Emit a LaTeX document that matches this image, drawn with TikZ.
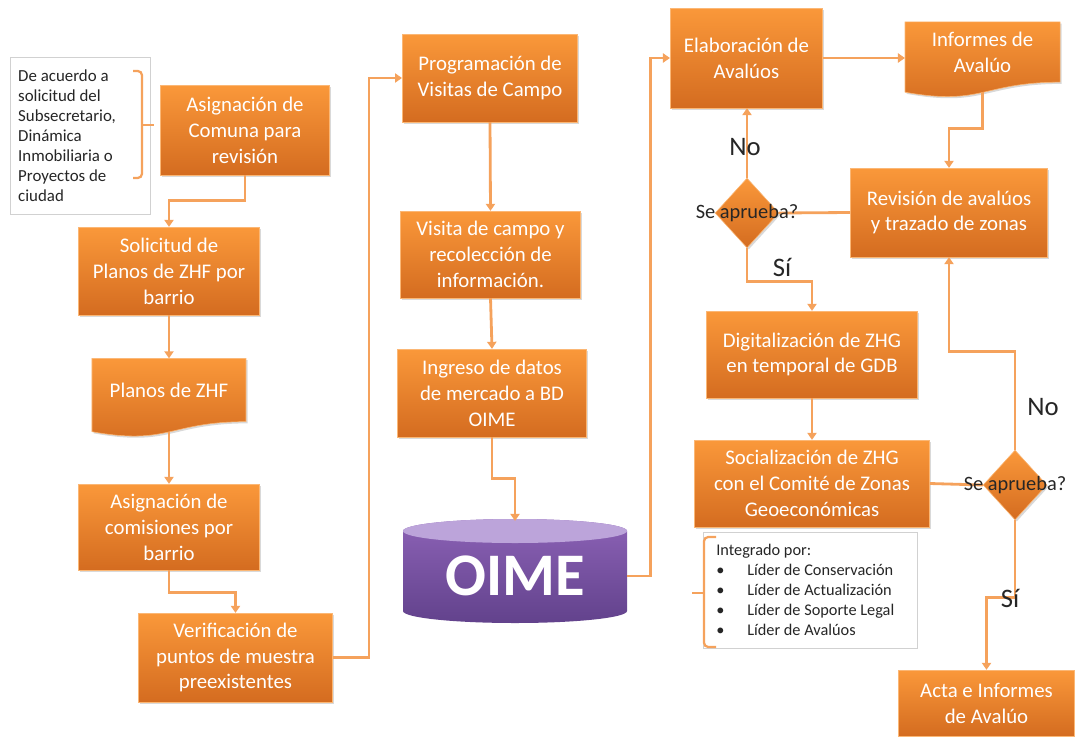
\documentclass[tikz,border=0pt]{standalone}
\usepackage{fontspec}
\setmainfont{Carlito}
\usetikzlibrary{arrows.meta,shapes.geometric,shadows,backgrounds,calc}
\definecolor{naranjaA}{RGB}{250,152,58}
\definecolor{naranjaB}{RGB}{212,108,32}
\definecolor{conector}{RGB}{245,162,92}
\definecolor{moradoA}{RGB}{140,98,182}
\definecolor{moradoB}{RGB}{98,66,140}
\definecolor{moradoT}{RGB}{188,164,218}
\begin{document}
\begin{tikzpicture}
  [x=0.025cm,y=-0.025cm,
   medida/.style 2 args={minimum width=#1*0.70866pt,minimum height=#2*0.70866pt},
   sombra/.style={drop shadow={shadow xshift=1.2pt,shadow yshift=-1.2pt,opacity=.3}},
   caja/.style={rectangle,top color=naranjaA,bottom color=naranjaB,draw=naranjaA!70!white,
     line width=.4pt,text=white,align=center,inner sep=2pt,sombra,
     font=\fontsize{14.8}{18.4}\selectfont},
   doc/.style={rectangle,text=white,align=center,inner sep=2pt,
     font=\fontsize{14.8}{18.4}\selectfont},
   decision/.style={diamond,top color=naranjaA,bottom color=naranjaB,draw=naranjaA!70!white,
     inner sep=0pt,sombra,medida={64}{70}},
   nota/.style={rectangle,draw=black!18,fill=white,align=flush left,text=black!85},
   pregunta/.style={text=black!85,font=\fontsize{14.5}{16}\selectfont},
   resp/.style={text=black!85,font=\fontsize{19}{22}\selectfont},
   flecha/.style={draw=conector,line width=2pt,-{Triangle[width=6.5pt,length=5pt]}},
   union/.style={draw=conector,line width=2pt},
   llave/.style={draw=conector,line width=1.6pt,rounded corners=3pt}]
  \useasboundingbox (0,0) rectangle (1075,736);

  % notas
  \node[nota,medida={140}{158},text width=124*0.70866pt,inner xsep=5.7pt,
    font=\fontsize{12}{14.2}\selectfont] (nota1) at (80,136)
    {De acuerdo a\\solicitud del\\Subsecretario,\\Dinámica\\Inmobiliaria o\\Proyectos de\\ciudad};
  \draw[llave] (133,71) -- (142,71) -- (142,178) -- (133,178);
  \draw[llave] (142,125) -- (154,125);

  \node[nota,medida={215}{116},text width=189*0.70866pt,inner xsep=9.2pt,
    font=\fontsize{11.6}{14.2}\selectfont] (nota2) at (810.5,590)
    {Integrado por:\\
     \makebox[22pt][l]{\textbullet}Líder de Conservación\\
     \makebox[22pt][l]{\textbullet}Líder de Actualización\\
     \makebox[22pt][l]{\textbullet}Líder de Soporte Legal\\
     \makebox[22pt][l]{\textbullet}Líder de Avalúos};
  \draw[llave] (716,537) -- (704,537) -- (704,647) -- (716,647);
  \draw[llave] (704,593) -- (692,593);

  % columna 1
  \node[caja,medida={170}{90}] (comuna) at (245,130) {Asignación de\\Comuna para\\revisión};
  \node[caja,medida={182}{88}] (solicitud) at (169,271) {Solicitud de\\Planos de ZHF por\\barrio};
  \node[doc,medida={154}{63}] (planos) at (169,390) {Planos de ZHF};
  \node[caja,medida={182}{86}] (comisiones) at (169,527) {Asignación de\\comisiones por\\barrio};
  \node[caja,medida={195}{89}] (verif) at (235.5,657.5) {Verificación de\\puntos de muestra\\preexistentes};

  % columna 2
  \node[caja,medida={176}{88}] (prog) at (490,78) {Programación de\\Visitas de Campo};
  \node[caja,medida={181}{87}] (visita) at (490.5,254.5) {Visita de campo y\\recolección de\\información.};
  \node[caja,medida={190}{88}] (ingreso) at (492,393) {Ingreso de datos\\de mercado a BD\\OIME};

  % base de datos
  \shade[top color=moradoA,bottom color=moradoB] (403,531) -- (403,611)
    arc[start angle=180,end angle=0,x radius=112,y radius=12] -- (627,531)
    arc[start angle=0,end angle=-180,x radius=112,y radius=12] -- cycle;
  \fill[moradoT] (515,531) ellipse [x radius=112,y radius=12];
  \node[medida={224}{110},text=white,font=\fontsize{43}{43}\selectfont\bfseries] (oime) at (515,576) {OIME};

  % columna 3
  \node[caja,medida={153}{100}] (elab) at (746.5,58) {Elaboración de\\Avalúos};
  \node[doc,medida={155}{60}] (informes) at (982.5,52) {Informes de\\Avalúo};
  \node[caja,medida={198}{89}] (rev) at (949,212.5) {Revisión de avalúos\\y trazado de zonas};
  \node[decision] (q1) at (747,213) {};
  \node[caja,medida={212}{87}] (digit) at (812,354.5) {Digitalización de ZHG\\en temporal de GDB};
  \node[caja,medida={236}{87}] (social) at (812,483.5) {Socialización de ZHG\\con el Comité de Zonas\\Geoeconómicas};
  \node[decision] (q2) at (1015,485) {};
  \node[caja,medida={177}{66}] (acta) at (986.5,703) {Acta e Informes\\de Avalúo};

  \begin{scope}[on background layer]
    \foreach \d in {planos,informes}
      \path[top color=naranjaA,bottom color=naranjaB,draw=naranjaA!70!white,line width=.4pt,sombra]
        (\d.north west) -- (\d.north east) -- (\d.south east)
        .. controls ($(\d.south east)!.5!(\d.south west)$) and ($(\d.south)+(0,24)$)
        .. ($(\d.south west)+(0,10)$) -- cycle;
  \end{scope}

  % conectores
  \draw[flecha] (comuna.south) -- ++(0,25) -| (solicitud.north);
  \foreach \desde/\hasta in {solicitud/planos,prog/visita,visita/ingreso,digit/social}
    \draw[flecha] (\desde.south) -- (\hasta.north);
  \draw[flecha] ($(planos.south)+(0,10)$) -- (comisiones.north);
  \draw[flecha] (comisiones.south) -- ++(0,22) -| (verif.north);
  \draw[flecha] (verif.east) -- ++(36,0) |- (prog.west);
  \draw[flecha] (ingreso.south) -- ++(0,41) -| (oime.north);
  \draw[flecha] (oime.east) -- ++(24,0) |- (elab.west);
  \draw[flecha] (elab.east) -- (elab.east -| informes.west);
  \draw[flecha] ($(informes.south)+(0,10)$) -- ++(0,36) -| (rev.north);
  \draw[union] (rev.west) -- (q1.east);
  \draw[flecha] (q1.north) -- (q1.north |- elab.south);
  \draw[flecha] (q1.south) -- ++(0,33) -| (digit.north);
  \draw[union] (social.east) -- (q2.west);
  \draw[flecha] (q2.north) -- ++(0,-98) -| (rev.south);
  \draw[flecha] (q2.south) -- ++(0,77) -| (acta.north);

  % etiquetas
  \node[pregunta] (q1txt) at (q1) {Se aprueba?};
  \node[pregunta] (q2txt) at (q2) {Se aprueba?};
  \node[resp] (no1) at (745,147) {No};
  \node[resp] (si1) at (782,267) {Sí};
  \node[resp] (no2) at (1043,407) {No};
  \node[resp] (si2) at (1010,598) {Sí};
\end{tikzpicture}
\end{document}
